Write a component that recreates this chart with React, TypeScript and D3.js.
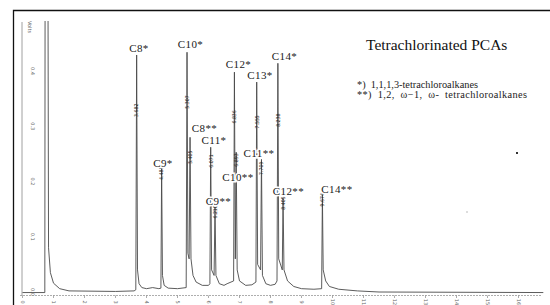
import React, { useRef, useEffect } from "react";
import { select, scaleLinear, line } from "d3";

// peaks, in elution order
const peakNames = ["C8*", "C9*", "C10*", "C8**", "C11*", "C9**", "C12*", "C10**", "C13*", "C11**", "C14*", "C12**", "C14**"];
const retTimes = [3.682, 4.488, 5.307, 5.405, 6.071, 6.21, 6.836, 6.893, 7.555, 7.709, 8.238, 8.405, 9.674];
const retLabels = ["3.682", "4.488", "5.307", "5.405", "6.071", "6.210", "6.836", "6.893", "7.555", "7.709", "8.238", "8.405", "9.674"];
// level (volts) where the printed time sits on the peak
const rtLabelLevel = [0.329, 0.215, 0.344, 0.244, 0.237, 0.145, 0.317, 0.239, 0.308, 0.224, 0.311, 0.161, 0.167];
// name label anchor [min, volts]
const nameAt = [
  [3.758, 0.434], [4.532, 0.226], [5.419, 0.442], [5.871, 0.29], [6.177, 0.267], [6.323, 0.157],
  [6.968, 0.405], [6.952, 0.201], [7.661, 0.385], [7.629, 0.245], [8.452, 0.42], [8.581, 0.175], [10.145, 0.18],
];

// detector trace [min, volts]
const trace = [
  [0, -0.001], [0.72, -0.001], [0.73, 0.6], [0.82, 0.6], [0.84, 0.08], [0.9, 0.035], [1.0, 0.016],
  [1.2, 0.006], [1.5, 0.002], [3.0, 0.001], [3.6, 0.002], [3.655, 0.004],
  [3.682, 0.429], [3.71, 0.04], [3.76, 0.015], [3.85, 0.008], [4.0, 0.006], [4.2, 0.008], [4.4, 0.006], [4.465, 0.007],
  [4.488, 0.224], [4.515, 0.03], [4.57, 0.012], [4.7, 0.007], [5.0, 0.006], [5.28, 0.008],
  [5.307, 0.434], [5.335, 0.07], [5.375, 0.06], [5.405, 0.28], [5.435, 0.06], [5.5, 0.03], [5.6, 0.018], [5.8, 0.012], [6.0, 0.012], [6.045, 0.015],
  [6.071, 0.262], [6.1, 0.04], [6.18, 0.03], [6.21, 0.154], [6.24, 0.03], [6.35, 0.015], [6.5, 0.012], [6.6, 0.015], [6.81, 0.02],
  [6.836, 0.398], [6.865, 0.06], [6.893, 0.253], [6.925, 0.04], [7.0, 0.02], [7.2, 0.012], [7.4, 0.013], [7.53, 0.018],
  [7.555, 0.38], [7.585, 0.05], [7.68, 0.04], [7.709, 0.24], [7.74, 0.03], [7.85, 0.015], [8.0, 0.012], [8.15, 0.014], [8.21, 0.02],
  [8.238, 0.414], [8.265, 0.06], [8.38, 0.04], [8.405, 0.17], [8.435, 0.04], [8.55, 0.02], [8.75, 0.01], [9.0, 0.006], [9.4, 0.005], [9.65, 0.006],
  [9.674, 0.176], [9.7, 0.04], [9.78, 0.02], [9.9, 0.01], [10.2, 0.005], [10.8, 0.002], [11.5, 0.0], [16.8, -0.001],
];

const xTicks = [0, 1, 2, 3, 4, 5, 6, 7, 8, 9, 10, 11, 12, 13, 14, 15, 16];
const yTicks = [0, 0.1, 0.2, 0.3, 0.4];

const title = "Tetrachlorinated PCAs";
const legendLines = ["*)  1,1,1,3-tetrachloroalkanes", "**)  1,2,  \u03c9\u22121,  \u03c9-  tetrachloroalkanes"];
const legendWidths = [121, 170];

const W = 550;
const H = 305;

function App() {
  const svgRef = useRef(null);

  useEffect(() => {
    const svg = select(svgRef.current);
    svg.selectAll("*").remove();

    const xScale = scaleLinear().domain([0, 16.8]).range([22.5, 543.3]);
    const yScale = scaleLinear().domain([0, 0.49]).range([292, 21.3]);

    svg.append("rect").attr("width", W).attr("height", H).attr("fill", "white");

    // scan frame
    svg.append("path")
      .attr("d", `M13.5,${H} V10.5 H${W}`)
      .attr("fill", "none")
      .attr("stroke", "#111")
      .attr("stroke-width", 1.3);

    svg.append("clipPath").attr("id", "plotclip")
      .append("rect").attr("x", 20).attr("y", 21).attr("width", 526).attr("height", 280);

    // y axis
    svg.append("line")
      .attr("x1", 22).attr("x2", 22).attr("y1", 22).attr("y2", 296)
      .attr("stroke", "#888").attr("stroke-width", 0.8);
    svg.selectAll(".ytick")
      .data(yTicks)
      .join("text")
      .attr("class", "ytick")
      .attr("transform", (d) => `translate(31,${yScale(d)}) rotate(90)`)
      .attr("text-anchor", "middle")
      .attr("font-family", "DejaVu Sans")
      .attr("font-size", 5)
      .attr("fill", "#666")
      .text((d) => d.toFixed(1));
    svg.append("text")
      .attr("transform", "translate(28,27) rotate(90)")
      .attr("text-anchor", "middle")
      .attr("font-family", "DejaVu Sans")
      .attr("font-size", 5)
      .attr("fill", "#666")
      .text("Volts");

    // x axis
    svg.append("line")
      .attr("x1", 20).attr("x2", 541).attr("y1", 295.5).attr("y2", 295.5)
      .attr("stroke", "#999").attr("stroke-width", 0.8)
      .attr("stroke-dasharray", "2,1");
    svg.selectAll(".xtickmark")
      .data(xTicks)
      .join("line")
      .attr("class", "xtickmark")
      .attr("x1", (d) => xScale(d)).attr("x2", (d) => xScale(d))
      .attr("y1", 295.5).attr("y2", 298)
      .attr("stroke", "#888").attr("stroke-width", 0.7);
    svg.selectAll(".xtick")
      .data(xTicks)
      .join("text")
      .attr("class", "xtick")
      .attr("transform", (d) => `translate(${xScale(d) - 1.5},302) rotate(90)`)
      .attr("text-anchor", "middle")
      .attr("font-family", "DejaVu Sans")
      .attr("font-size", 5)
      .attr("fill", "#666")
      .text((d) => d);

    // trace
    const traceLine = line()
      .x((d) => xScale(d[0]))
      .y((d) => yScale(d[1]));
    svg.append("path")
      .datum(trace)
      .attr("clip-path", "url(#plotclip)")
      .attr("d", traceLine)
      .attr("fill", "none")
      .attr("stroke", "#4a4a4a")
      .attr("stroke-width", 0.9)
      .attr("stroke-linejoin", "round");

    // printed retention times
    svg.selectAll(".rt")
      .data(retLabels)
      .join("text")
      .attr("class", "rt")
      .attr("transform", (d, i) => `translate(${xScale(retTimes[i]) + 1.8},${yScale(rtLabelLevel[i])}) rotate(-90)`)
      .attr("text-anchor", "middle")
      .attr("font-family", "DejaVu Sans Condensed")
      .attr("font-size", 5.2)
      .attr("fill", "#222")
      .text((d) => d);

    // peak names
    svg.selectAll(".pname")
      .data(peakNames)
      .join("text")
      .attr("class", "pname")
      .attr("x", (d, i) => xScale(nameAt[i][0]))
      .attr("y", (d, i) => yScale(nameAt[i][1]))
      .attr("text-anchor", "middle")
      .attr("font-family", "Liberation Serif")
      .attr("font-size", 11)
      .attr("letter-spacing", 0.4)
      .attr("fill", "#1a1a1a")
      .attr("stroke", "white")
      .attr("stroke-width", 3)
      .attr("paint-order", "stroke")
      .text((d) => d);

    // title + legend
    svg.append("text")
      .attr("x", 366).attr("y", 50)
      .attr("font-family", "Liberation Serif")
      .attr("font-size", 15.5)
      .attr("fill", "#111")
      .text(title);
    svg.selectAll(".legend")
      .data(legendLines)
      .join("text")
      .attr("class", "legend")
      .attr("x", 357)
      .attr("y", (d, i) => 88 + i * 9.5)
      .attr("font-family", "Liberation Serif")
      .attr("font-size", 10.3)
      .attr("fill", "#222")
      .attr("textLength", (d, i) => legendWidths[i])
      .attr("lengthAdjust", "spacing")
      .attr("xml:space", "preserve")
      .style("white-space", "pre")
      .text((d) => d);

    // dust specks on the scan
    svg.append("rect").attr("x", 516).attr("y", 152).attr("width", 2).attr("height", 2).attr("fill", "#333");
    svg.append("rect").attr("x", 466.5).attr("y", 211.5).attr("width", 1).attr("height", 1).attr("fill", "#777");
  }, []);

  return (
    <div style={{ width: W, height: H }}>
      <style>{`body{margin:0}`}</style>
      <svg ref={svgRef} width={W} height={H} style={{ display: "block" }} />
    </div>
  );
}

export default App;
